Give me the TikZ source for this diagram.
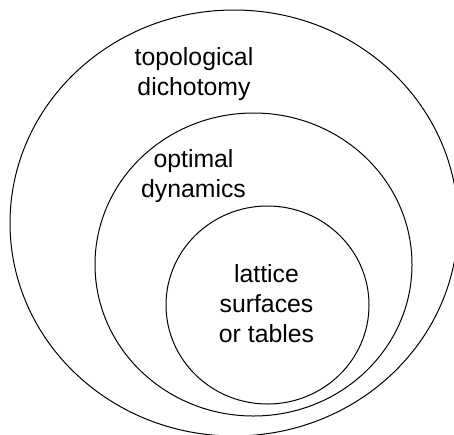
\documentclass[tikz,border=0pt]{standalone}
\usepackage{fontspec}
\setmainfont{Liberation Sans}
\begin{document}
\begin{tikzpicture}[x=1pt,y=-1pt,
  ring/.style={draw=black,line width=1pt},
  lbl/.style={align=center,inner sep=0pt,font=\fontsize{24.8}{29.7}\selectfont}]
\useasboundingbox (0,0) rectangle (454,434);
\draw[ring] (234,223) ellipse [x radius=224, y radius=213];
\draw[ring] (253.5,264.5) ellipse [x radius=158.5, y radius=151.5];
\draw[ring] (267.5,305) ellipse [x radius=101.5, y radius=99];
\node[lbl,anchor=base] (topo) at (194,95) {topological\\dichotomy};
\node[lbl,anchor=base] (opt) at (193.5,197) {optimal\\dynamics};
\node[lbl,anchor=base] (lat) at (266.5,342) {lattice\\surfaces\\or tables};
\end{tikzpicture}
\end{document}
